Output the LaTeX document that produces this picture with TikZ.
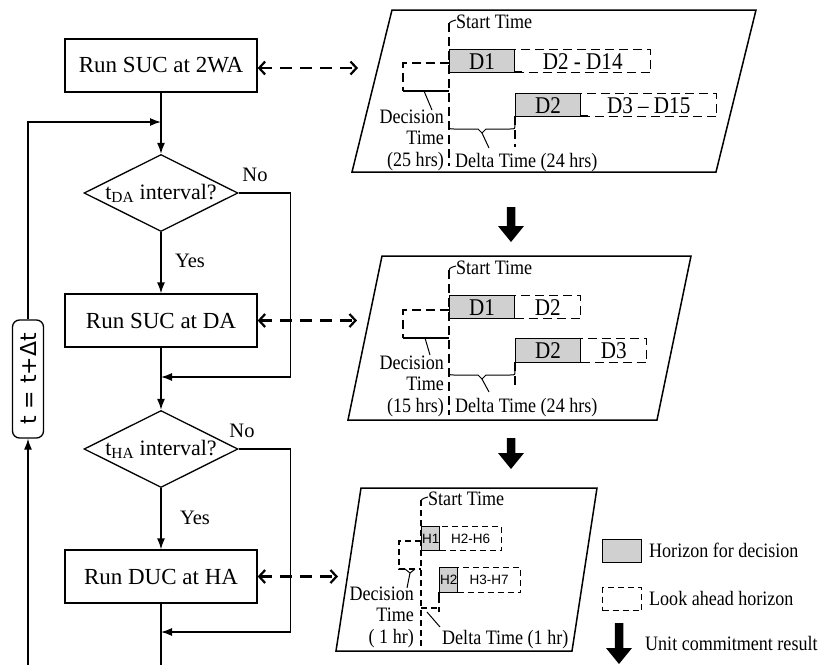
\documentclass[tikz,border=0pt]{standalone}
\usepackage{fontspec}
\usepackage{graphicx}
\setmainfont{Liberation Serif}
\newfontfamily\narrowserif[FakeStretch=0.88]{Liberation Serif}
\newfontfamily\labelsans{Liberation Sans}
\newfontfamily\stepsans{DejaVu Sans}
\usetikzlibrary{shapes.geometric,arrows.meta}
\definecolor{boxgray}{RGB}{208,208,208}

% thick black "unit commitment result" arrow: x, top of shaft, tip
\newcommand\ucarrow[3]{%
  \fill[black] ({#1-4.25},#2) -- ({#1+4.25},#2) -- ({#1+4.25},{#3-16}) -- ({#1+13},{#3-16})
    -- (#1,#3) -- ({#1-13},{#3-16}) -- ({#1-4.25},{#3-16}) -- cycle;}

\begin{document}
\begin{tikzpicture}[x=1pt,y=-1pt,
  every node/.style={inner sep=0pt},
  flowbox/.style={draw,line width=1.3pt,minimum width=192pt,minimum height=53pt,font=\fontsize{23}{25}\selectfont},
  decision/.style={draw,diamond,aspect=2,line width=1.3pt,minimum width=154pt,minimum height=77pt,font=\fontsize{22}{24}\selectfont},
  flow/.style={line width=1.3pt,-{Latex[length=11pt,width=8pt]}},
  plain/.style={line width=1.3pt},
  link/.style={line width=2.2pt,dash pattern=on 12pt off 8pt,
    {Straight Barb[length=6pt,width=13pt,line width=2.2pt]}-{Straight Barb[length=6pt,width=13pt,line width=2.2pt]}},
  frame/.style={line width=1.5pt},
  tick/.style={line width=1pt},
  dsh/.style={line width=1.4pt,dash pattern=on 9pt off 5pt},
  fdsh/.style={line width=1.2pt,dash pattern=on 6pt off 4pt},
  decbox/.style={draw,line width=1.3pt,fill=boxgray,anchor=north west},
  aheadbox/.style={draw,dsh,anchor=north west},
  lbl/.style={font=\narrowserif\fontsize{20.5}{21.5}\selectfont},
  dlbl/.style={font=\narrowserif\fontsize{24}{26}\selectfont},
  hlbl/.style={font=\labelsans\fontsize{13.5}{15}\selectfont},
  yn/.style={font=\fontsize{20.5}{22}\selectfont}]

\useasboundingbox (0,0) rectangle (823,665);

% ---------------- flow chart ----------------
\node[flowbox] (b1) at (161,65.5) {Run SUC at 2WA};
\node[decision] (d1) at (161,193) {t\textsubscript{DA} interval?};
\node[flowbox] (b2) at (161,320.5) {Run SUC at DA};
\node[decision] (d2) at (161,449) {t\textsubscript{HA} interval?};
\node[flowbox] (b3) at (161,576.5) {Run DUC at HA};
\node[draw,rounded corners=7pt,line width=1.3pt,minimum width=31pt,minimum height=118pt,
      font=\stepsans\fontsize{22}{24}\selectfont] (tb) at (28,379) {\rotatebox{90}{t = t+Δt}};

\node[yn] (no1) at (255,175) {No};
\node[yn] (yes1) at (190,261) {Yes};
\node[yn] (no2) at (242,431) {No};
\node[yn] (yes2) at (195,518) {Yes};

\coordinate (j0) at (161,122);
\coordinate (j1) at (161,377);
\coordinate (j2) at (161,632);
\coordinate (loopin) at (28,665);
\coordinate (flowout) at (161,665);

\draw[flow] (b1) -- (d1);
\draw[flow] (d1) -- (b2);
\draw[flow] (b2) -- (d2);
\draw[flow] (d2) -- (b3);
\draw[plain] (b3) -- (flowout);
\draw[flow] (d1.east) -- ++(52,0) |- (j1);
\draw[flow] (d2.east) -- ++(52,0) |- (j2);
\draw[flow] (loopin) -- (tb.south);
\draw[flow] (tb.north) |- (j0);

% links to the horizon panels
\coordinate (p1) at (358,68);
\coordinate (p2) at (357,320.5);
\coordinate (p3) at (338,576.5);
\draw[link] (b1.east |- p1) -- (p1);
\draw[link] (b2.east) -- (p2);
\draw[link] (b3.east) -- (p3);

% ---------------- panel: two weeks ahead ----------------
\draw[frame] (392,10) -- (756,10) -- (716,172) -- (352,172) -- cycle;
\draw[dsh] (449,23) -- (449,166);
\draw[tick] (449,28) .. controls (449,22) .. (456,20);
\node[lbl,anchor=west] (st1) at (456,22) {Start Time};
\node[decbox,minimum width=65pt,minimum height=23pt] (w1) at (449,49) {};
\node[dlbl] at (w1.center) {D1};
\node[aheadbox,minimum width=136pt,minimum height=23pt] (w1a) at (514,49) {};
\node[dlbl] at (w1a.center) {D2 - D14};
\draw[plain] (514,72) -- (522,72);
\draw[dsh] (449,63) -- (403,63) -- (403,91);
\draw[plain] (403,91) -- (449,91);
\draw[tick] (424,91) -- (432,110);
\node[lbl,anchor=east,align=right] (dt1) at (444,140) {Decision\\Time\\(25 hrs)};
\node[decbox,minimum width=65pt,minimum height=23pt] (w2) at (515,93) {};
\node[dlbl] at (w2.center) {D2};
\node[aheadbox,minimum width=136pt,minimum height=23pt] (w2a) at (580,93) {};
\node[dlbl] at (w2a.center) {D3 – D15};
\draw[plain] (580,116) -- (588,116);
\draw[dsh] (515,116) -- (515,147);
\draw[tick] (449,124) .. controls (449,129) .. (454,129) -- (478,129) -- (482,133) -- (486,129)
   -- (510,129) .. controls (515,129) .. (515,124);
\draw[tick] (482,133) -- (489,148);
\node[lbl,anchor=west] (delta1) at (455,163) {Delta Time (24 hrs)};

\ucarrow{511}{207}{242}

% ---------------- panel: day ahead ----------------
\draw[frame] (382,256) -- (691,256) -- (657,420) -- (348,420) -- cycle;
\draw[dsh] (449,270) -- (449,415);
\draw[tick] (449,274) .. controls (449,268) .. (456,266);
\node[lbl,anchor=west] (st2) at (456,268) {Start Time};
\node[decbox,minimum width=65pt,minimum height=23pt] (a1) at (449,295) {};
\node[dlbl] at (a1.center) {D1};
\node[aheadbox,minimum width=66pt,minimum height=23pt] (a1a) at (514,295) {};
\node[dlbl] at (a1a.center) {D2};
\draw[dsh] (449,310) -- (403,310) -- (403,338);
\draw[plain] (403,338) -- (449,338);
\draw[tick] (425,338) -- (430,355);
\node[lbl,anchor=east,align=right] (dt2) at (444,386) {Decision\\Time\\(15 hrs)};
\node[decbox,minimum width=65pt,minimum height=24pt] (a2) at (515,338) {};
\node[dlbl] at (a2.center) {D2};
\node[aheadbox,minimum width=66pt,minimum height=24pt] (a2a) at (580,338) {};
\node[dlbl] at (a2a.center) {D3};
\draw[dsh] (515,362) -- (515,388);
\draw[tick] (449,371) .. controls (449,375) .. (454,375) -- (478,375) -- (482,379) -- (486,375)
   -- (510,375) .. controls (515,375) .. (515,371);
\draw[tick] (482,379) -- (489,392);
\node[lbl,anchor=west] (delta2) at (455,408) {Delta Time (24 hrs)};

\ucarrow{511}{438}{469}

% ---------------- panel: hour ahead ----------------
\draw[frame] (361,488) -- (597,488) -- (572,651) -- (336,651) -- cycle;
\draw[fdsh] (421,500) -- (421,647);
\draw[tick] (421,505) .. controls (421,499) .. (428,497);
\node[lbl,anchor=west] (st3) at (428,499) {Start Time};
\node[decbox,minimum width=18pt,minimum height=24pt] (h1) at (421,526) {};
\node[hlbl] at (h1.center) {H1};
\node[draw,fdsh,anchor=north west,minimum width=62pt,minimum height=24pt] (h1a) at (439,526) {};
\node[hlbl] at (h1a.center) {H2-H6};
\draw[fdsh] (421,541) -- (399,541) -- (399,569) -- (421,569);
\draw[tick] (405,569) -- (410,573) -- (415,569);
\draw[tick] (410,573) -- (407,588);
\node[lbl,anchor=east,align=right] (dt3) at (414,617) {Decision\\Time\\( 1 hr)};
\node[decbox,minimum width=18pt,minimum height=25pt] (h2) at (439,567) {};
\node[hlbl] at (h2.center) {H2};
\node[draw,fdsh,anchor=north west,minimum width=63pt,minimum height=25pt] (h2a) at (457,567) {};
\node[hlbl] at (h2a.center) {H3-H7};
\draw[plain] (439,592) -- (439,597);
\draw[fdsh] (439,597) -- (439,612);
\draw[fdsh] (421,608) -- (439,608);
\draw[tick] (427,612) -- (440,627);
\node[lbl,anchor=west] (delta3) at (442,640) {Delta Time (1 hr)};

% ---------------- legend ----------------
\node[decbox,minimum width=39pt,minimum height=23pt] (lg1) at (602,539) {};
\node[lbl,anchor=west] at (649,550) {Horizon for decision};
\node[draw,fdsh,anchor=north west,minimum width=39pt,minimum height=23pt] (lg2) at (602,587) {};
\node[lbl,anchor=west] at (649,598) {Look ahead horizon};
\ucarrow{619}{623}{664}
\node[lbl,anchor=west] at (645,643) {Unit commitment result};

\end{tikzpicture}
\end{document}
